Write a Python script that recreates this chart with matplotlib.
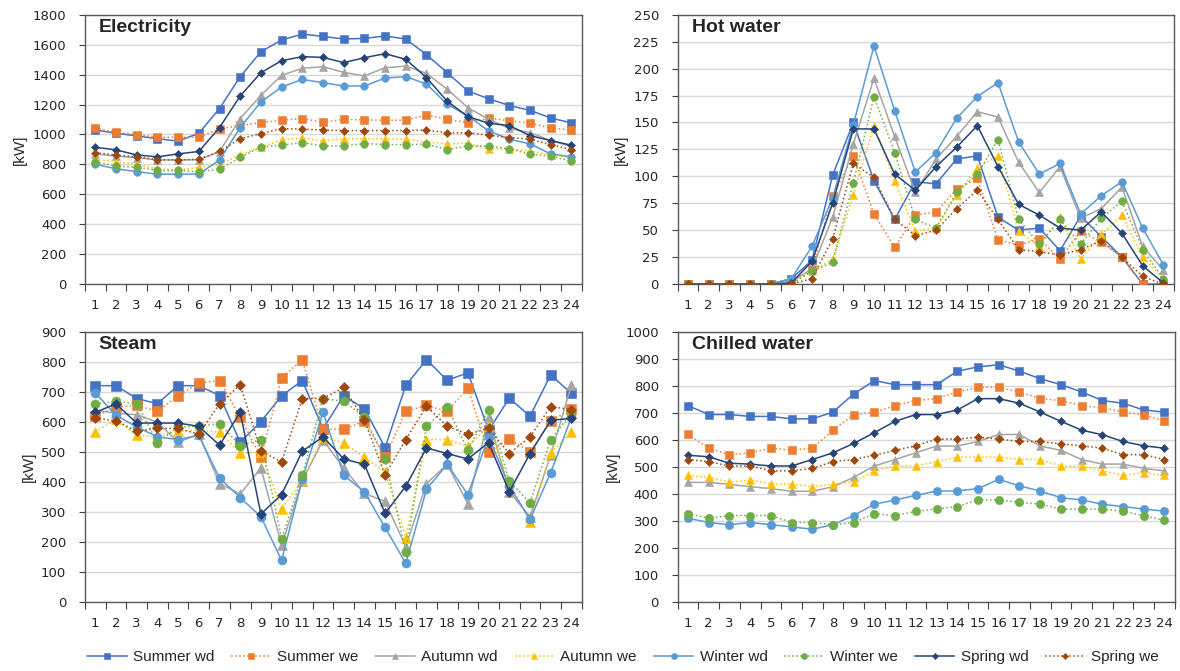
import numpy as np
import matplotlib.pyplot as plt

hours = list(range(1, 25))
series_names = ["Summer wd", "Summer we", "Autumn wd", "Autumn we",
                "Winter wd", "Winter we", "Spring wd", "Spring we"]

# Electricity [kW]
elec_summer_wd = [1030, 1008, 990, 972, 955, 1008, 1173, 1386, 1553, 1631, 1671, 1655,
                  1638, 1642, 1658, 1638, 1533, 1413, 1290, 1239, 1193, 1161, 1110, 1077]
elec_summer_we = [1041, 1015, 999, 981, 981, 981, 1037, 1061, 1079, 1095, 1106, 1081,
                  1101, 1097, 1095, 1095, 1130, 1101, 1079, 1108, 1092, 1075, 1044, 1030]
elec_autumn_wd = [870, 855, 845, 830, 830, 830, 885, 1106, 1262, 1395, 1442, 1453,
                  1415, 1391, 1446, 1457, 1408, 1302, 1179, 1101, 1041, 1012, 959, 919]
elec_autumn_we = [834, 817, 801, 768, 763, 779, 801, 863, 917, 963, 977, 955,
                  972, 970, 972, 968, 950, 937, 941, 901, 903, 890, 861, 848]
elec_winter_wd = [801, 770, 752, 734, 734, 736, 828, 1046, 1217, 1317, 1368, 1346,
                  1324, 1324, 1377, 1386, 1337, 1202, 1124, 1024, 968, 937, 870, 850]
elec_winter_we = [817, 788, 781, 759, 759, 750, 768, 846, 917, 928, 946, 923,
                  923, 939, 932, 932, 935, 899, 923, 921, 903, 870, 854, 823]
elec_spring_wd = [914, 897, 863, 850, 870, 886, 1046, 1257, 1413, 1493, 1520, 1515,
                  1480, 1513, 1540, 1502, 1380, 1222, 1119, 1075, 1059, 992, 959, 928]
elec_spring_we = [879, 861, 850, 830, 830, 834, 886, 972, 1006, 1039, 1035, 1030,
                  1026, 1026, 1026, 1026, 1030, 1010, 1012, 995, 979, 968, 932, 899]

# Hot water [kW]
hw_summer_wd = [0, 0, 0, 0, 0, 5, 22, 101, 150, 96, 60, 95,
                93, 116, 119, 62, 50, 52, 31, 63, 44, 25, 0, 0]
hw_summer_we = [0, 0, 0, 0, 0, 3, 14, 82, 119, 65, 34, 64,
                67, 88, 98, 41, 36, 42, 23, 49, 39, 25, 0, 0]
hw_autumn_wd = [0, 0, 0, 0, 0, 2, 14, 62, 130, 191, 137, 85,
                116, 137, 160, 155, 113, 85, 109, 61, 70, 90, 35, 13]
hw_autumn_we = [0, 0, 0, 0, 0, 0, 12, 23, 83, 147, 96, 49,
                52, 83, 108, 119, 49, 35, 62, 23, 46, 64, 25, 5]
hw_winter_wd = [0, 0, 0, 0, 0, 5, 35, 80, 148, 221, 161, 104,
                122, 154, 174, 187, 132, 102, 112, 65, 82, 95, 52, 18]
hw_winter_we = [0, 0, 0, 0, 0, 0, 12, 20, 94, 174, 122, 60,
                52, 85, 102, 134, 60, 37, 60, 37, 61, 77, 32, 5]
hw_spring_wd = [0, 0, 0, 0, 0, 1, 21, 75, 144, 144, 102, 87,
                109, 127, 147, 109, 74, 64, 52, 50, 67, 47, 17, 1]
hw_spring_we = [0, 0, 0, 0, 0, 0, 5, 42, 112, 99, 60, 45,
                50, 70, 87, 60, 32, 30, 27, 32, 40, 25, 7, 0]

# Steam [kW]
st_summer_wd = [722, 722, 679, 662, 722, 722, 689, 533, 602, 688, 739, 578,
                688, 645, 515, 723, 809, 740, 765, 573, 680, 620, 758, 696]
st_summer_we = [619, 651, 656, 636, 688, 731, 739, 617, 482, 748, 809, 577,
                576, 604, 484, 636, 656, 636, 714, 500, 543, 501, 603, 644]
st_autumn_wd = [640, 630, 625, 600, 533, 560, 395, 360, 447, 188, 404, 540,
                447, 362, 335, 184, 395, 459, 327, 617, 367, 284, 490, 723]
st_autumn_we = [567, 610, 556, 551, 570, 573, 567, 497, 500, 309, 406, 550,
                531, 482, 434, 214, 542, 542, 520, 586, 400, 267, 497, 567]
st_winter_wd = [698, 623, 584, 551, 542, 556, 413, 348, 284, 138, 410, 633,
                423, 367, 248, 128, 376, 459, 358, 551, 386, 275, 431, 617]
st_winter_we = [661, 670, 661, 532, 584, 586, 595, 522, 542, 210, 422, 679,
                670, 617, 477, 166, 586, 651, 506, 642, 404, 330, 542, 629]
st_spring_wd = [633, 661, 597, 597, 597, 586, 523, 633, 293, 358, 503, 551,
                477, 459, 295, 386, 514, 495, 477, 532, 367, 495, 606, 613]
st_spring_we = [614, 604, 570, 579, 579, 560, 661, 725, 504, 467, 679, 679,
                716, 606, 424, 542, 653, 586, 560, 579, 495, 551, 652, 642]

# Chilled water [kW]
cw_summer_wd = [728, 695, 695, 688, 688, 679, 679, 704, 772, 821, 806, 806,
                806, 856, 872, 880, 856, 828, 806, 779, 747, 737, 712, 704]
cw_summer_we = [621, 570, 546, 553, 570, 563, 570, 637, 695, 704, 728, 747,
                754, 779, 796, 796, 779, 754, 747, 728, 721, 704, 695, 670]
cw_autumn_wd = [443, 443, 436, 427, 420, 410, 410, 427, 462, 504, 528, 553,
                578, 578, 595, 621, 621, 578, 562, 528, 511, 511, 495, 486]
cw_autumn_we = [469, 462, 444, 452, 436, 436, 427, 436, 444, 486, 504, 504,
                520, 537, 537, 537, 528, 528, 504, 504, 486, 469, 479, 469]
cw_winter_wd = [310, 294, 286, 294, 286, 278, 269, 286, 320, 362, 378, 395,
                411, 411, 420, 454, 430, 411, 386, 378, 362, 353, 344, 336]
cw_winter_we = [327, 310, 320, 320, 320, 294, 294, 286, 294, 327, 319, 336,
                344, 353, 378, 378, 369, 362, 344, 344, 344, 336, 319, 302]
cw_spring_wd = [544, 538, 514, 511, 504, 504, 528, 553, 588, 628, 670, 695,
                695, 712, 754, 754, 737, 704, 670, 637, 620, 595, 579, 570]
cw_spring_we = [528, 520, 504, 504, 486, 486, 495, 520, 528, 544, 562, 579,
                604, 604, 611, 604, 595, 595, 586, 579, 570, 546, 546, 528]

colors = ["#4472C4", "#ED7D31", "#A5A5A5", "#FFC000",
          "#5B9BD5", "#70AD47", "#264478", "#9E480E"]
markers = ["s", "s", "^", "^", "o", "o", "D", "D"]
styles = ["-", ":", "-", ":", "-", ":", "-", ":"]

TEXT = "#262626"
plt.rcParams["font.family"] = ["DejaVu Sans"]


def draw_panel(ax, title, data, ymax, ystep, msize):
    for i, vals in enumerate(data):
        ms = msize * 0.72 if markers[i] == "D" else msize
        ax.plot(hours, vals, color=colors[i], linestyle=styles[i], linewidth=1.1,
                marker=markers[i], markersize=ms, markeredgewidth=0.4,
                label=series_names[i], zorder=3 + i)
    ax.set_xlim(0.5, 24.5)
    ax.set_ylim(0, ymax)
    ax.set_yticks(np.arange(0, ymax + 1, ystep))
    ax.set_xticks(hours)
    ax.set_xticks(np.arange(0.5, 25, 1), minor=True)
    ax.tick_params(axis="x", which="major", length=0, pad=11, labelsize=9.5,
                   colors=TEXT)
    ax.tick_params(axis="x", which="minor", length=5, width=0.8, color="#404040")
    ax.tick_params(axis="y", length=4.5, width=0.8, color="#404040", labelsize=9.5,
                   labelcolor=TEXT, pad=9)
    ax.yaxis.grid(True, color="#D9D9D9", linewidth=1.0)
    ax.set_axisbelow(True)
    for sp in ax.spines.values():
        sp.set_color("#595959")
        sp.set_linewidth(1.0)
    ax.set_ylabel("[kW]", fontsize=11, color=TEXT, family="Liberation Sans", labelpad=4)
    ax.text(0.028, 0.985, title, transform=ax.transAxes, ha="left", va="top",
            fontsize=14, fontweight="bold", color=TEXT, family="Liberation Sans",
            zorder=20)


fig = plt.figure(figsize=(11.8, 6.71), dpi=100)
ax1 = fig.add_axes([0.072, 0.5767, 0.421, 0.4013])
ax2 = fig.add_axes([0.5743, 0.5767, 0.4203, 0.4013])
ax3 = fig.add_axes([0.072, 0.1033, 0.421, 0.4013])
ax4 = fig.add_axes([0.5743, 0.1033, 0.4213, 0.4013])

draw_panel(ax1, "Electricity",
           [elec_summer_wd, elec_summer_we, elec_autumn_wd, elec_autumn_we,
            elec_winter_wd, elec_winter_we, elec_spring_wd, elec_spring_we],
           1800, 200, 5.5)
draw_panel(ax2, "Hot water",
           [hw_summer_wd, hw_summer_we, hw_autumn_wd, hw_autumn_we,
            hw_winter_wd, hw_winter_we, hw_spring_wd, hw_spring_we],
           250, 25, 5.5)
draw_panel(ax3, "Steam",
           [st_summer_wd, st_summer_we, st_autumn_wd, st_autumn_we,
            st_winter_wd, st_winter_we, st_spring_wd, st_spring_we],
           900, 100, 6.5)
draw_panel(ax4, "Chilled water",
           [cw_summer_wd, cw_summer_we, cw_autumn_wd, cw_autumn_we,
            cw_winter_wd, cw_winter_we, cw_spring_wd, cw_spring_we],
           1000, 100, 6.0)

handles, labels = ax1.get_legend_handles_labels()
fig.legend(handles, labels, loc="center", bbox_to_anchor=(0.528, 0.021), ncol=8,
           frameon=False, prop={"family": "Liberation Sans", "size": 11},
           handlelength=2.6, handletextpad=0.4, columnspacing=1.1,
           labelcolor=TEXT, markerscale=0.8)

fig.savefig("out.png", dpi=100)
